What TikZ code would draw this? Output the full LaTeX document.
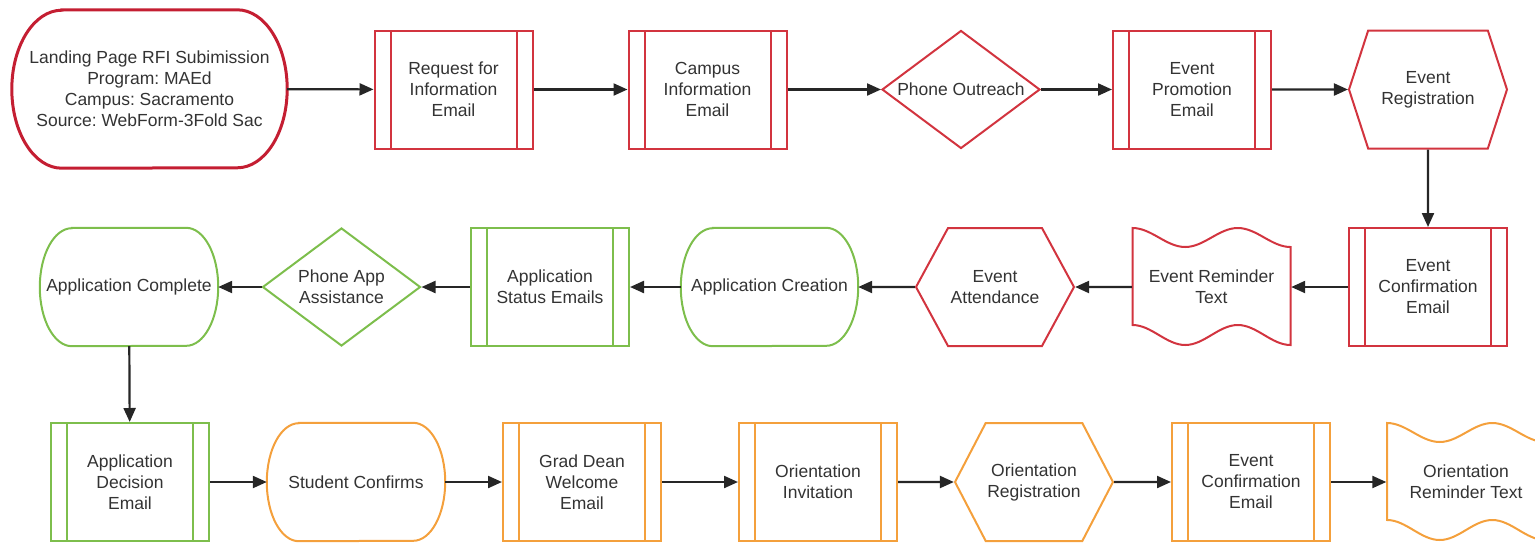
\documentclass[tikz,border=0pt]{standalone}
\usepackage{fontspec}
\setmainfont{Liberation Sans}
\usetikzlibrary{arrows.meta,shapes.geometric,shapes.symbols}
\definecolor{lred}{HTML}{D2343F}
\definecolor{dred}{HTML}{C41E32}
\definecolor{lgreen}{HTML}{7DBE4C}
\definecolor{lorange}{HTML}{F4A03C}
\definecolor{txt}{HTML}{333333}
\frenchspacing

\begin{document}
\begin{tikzpicture}[x=1pt,y=1pt,
    every node/.style={font=\fontsize{17.5}{21}\selectfont,text=txt,align=center,inner sep=0pt},
    box/.style={draw=#1,line width=2pt,minimum width=158pt,minimum height=118pt,
        path picture={\draw[#1,line width=2pt]
            ([xshift=16pt]path picture bounding box.north west)--([xshift=16pt]path picture bounding box.south west)
            ([xshift=-16pt]path picture bounding box.north east)--([xshift=-16pt]path picture bounding box.south east);}},
    hexa/.style 2 args={draw=#1,line width=2pt,signal,signal to=east and west,signal pointer angle=#2,
        minimum width=158pt,minimum height=118pt},
    dia/.style={draw=#1,line width=2pt,diamond,aspect=1.34,minimum width=158pt,minimum height=118pt},
    term/.style 2 args={minimum width=#1,minimum height=#2},
    arr/.style={line width=2.2pt,draw=black!85,-{Triangle[length=14pt,width=12pt]}}]
    \def\termline#1#2#3#4{\draw[line width=2pt,#2]([xshift=#3]#1.north west)--([xshift=-#3]#1.north east)
        arc[start angle=90,end angle=-90,x radius=#3,y radius=#4]--([xshift=#3]#1.south west)
        arc[start angle=270,end angle=90,x radius=#3,y radius=#4]--cycle;}
    \def\waveline#1#2{\draw[line width=2pt,#2,shift={(#1.center)}]
        (-79,59)..controls+(19,0)and+(-19,0)..(-26.3,40)..controls+(19,0)and+(-19,0)..(26.3,59)
        ..controls+(19,0)and+(-19,0)..(79,40)--(79,-58)..controls+(-19,0)and+(19,0)..(26.3,-38)
        ..controls+(-19,0)and+(19,0)..(-26.3,-58)..controls+(-19,0)and+(19,0)..(-79,-38)--cycle;}
    \useasboundingbox(0,0)rectangle(1535,-542);
    % row 1
    \node[term={275pt}{158pt}](start)at(149.5,-89){Landing Page RFI Subimission\\Program: MAEd\\Campus: Sacramento\\Source: WebForm-3Fold Sac};
    \termline{start}{dred,line width=3pt}{50pt}{79pt}
    \node[box=lred](rfi)at(453.5,-89.5){Request for\\Information\\Email};
    \node[box=lred](campus)at(707.5,-89.5){Campus\\Information\\Email};
    \node[dia=lred](phone)at(961,-89.5){Phone Outreach};
    \node[box=lred](eprom)at(1192,-89.5){Event\\Promotion\\Email};
    \node[hexa={lred}{144}](ereg)at(1428,-89.5){Event\\Registration};
    % row 2
    \node[box=lred](econf)at(1428,-287){Event\\Confirmation\\Email};
    \node[term={159pt}{118pt}](erem)at(1211.5,-287){Event Reminder\\Text};
    \waveline{erem}{lred}
    \node[hexa={lred}{123}](eatt)at(995,-287){Event\\Attendance};
    \node[term={177pt}{118pt}](acre)at(769.5,-287){Application Creation};
    \termline{acre}{lgreen}{32pt}{59pt}
    \node[box=lgreen](astat)at(550,-287){Application\\Status Emails};
    \node[dia=lgreen](papp)at(341.5,-287){Phone App\\Assistance};
    \node[term={178pt}{118pt}](acomp)at(129,-287){Application Complete};
    \termline{acomp}{lgreen}{32pt}{59pt}
    % row 3
    \node[box=lgreen](adec)at(130,-482){Application\\Decision\\Email};
    \node[term={178pt}{118pt}](stud)at(356,-482){Student Confirms};
    \termline{stud}{lorange}{32pt}{59pt}
    \node[box=lorange](gdean)at(582,-482){Grad Dean\\Welcome\\Email};
    \node[box=lorange](oinv)at(818,-482){Orientation\\Invitation};
    \node[hexa={lorange}{125}](oreg)at(1034,-482){Orientation\\Registration};
    \node[box=lorange](econfb)at(1251,-482){Event\\Confirmation\\Email};
    \node[term={159pt}{118pt}](orem)at(1466,-482){Orientation\\Reminder Text};
    \waveline{orem}{lorange}
    % connectors
    \draw[arr](start)--(rfi);
    \draw[arr](rfi)--(campus);
    \draw[arr](campus)--(phone);
    \draw[arr](phone)--(eprom);
    \draw[arr](eprom)--(ereg);
    \draw[arr](ereg)--(econf);
    \draw[arr](econf)--(erem);
    \draw[arr](erem)--(eatt);
    \draw[arr](eatt)--(acre);
    \draw[arr](acre)--(astat);
    \draw[arr](astat)--(papp);
    \draw[arr](papp)--(acomp);
    \draw[arr](acomp)--(adec);
    \draw[arr](adec)--(stud);
    \draw[arr](stud)--(gdean);
    \draw[arr](gdean)--(oinv);
    \draw[arr](oinv)--(oreg);
    \draw[arr](oreg)--(econfb);
    \draw[arr](econfb)--(orem);
\end{tikzpicture}
\end{document}
